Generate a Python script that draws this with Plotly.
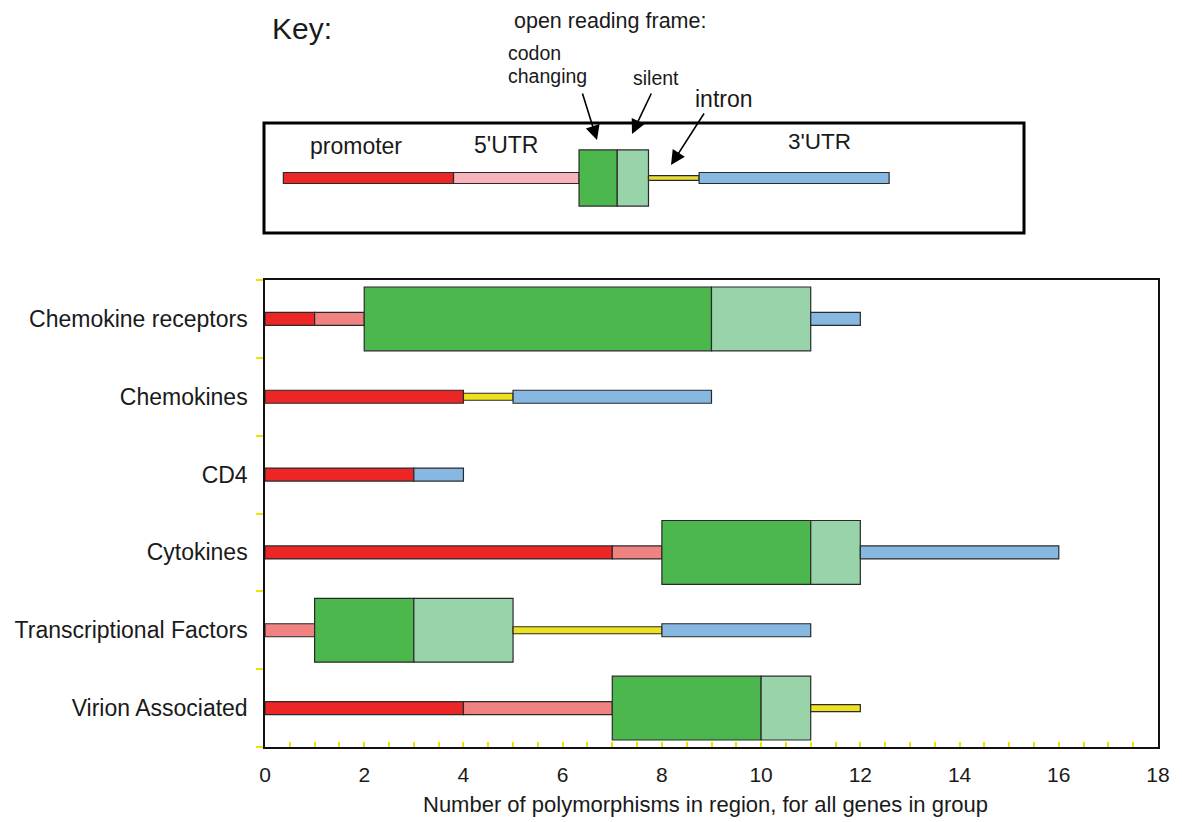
import plotly.graph_objects as go

# ---------------- data ----------------
categories = ["Chemokine receptors", "Chemokines", "CD4", "Cytokines",
              "Transcriptional Factors", "Virion Associated"]
regions = ["promoter", "5'UTR", "codon changing", "silent", "intron", "3'UTR"]
promoter = [1, 4, 3, 7, 0, 4]
utr5 = [1, 0, 0, 1, 1, 3]
codon = [7, 0, 0, 3, 2, 3]
silent = [2, 0, 0, 1, 2, 1]
intron = [0, 1, 0, 0, 3, 1]
utr3 = [1, 4, 1, 4, 3, 0]
x_ticks = [0, 2, 4, 6, 8, 10, 12, 14, 16, 18]

# key (legend diagram) segment lengths, same units as x axis
key_start = 0.37
key_lengths = [3.43, 2.53, 0.77, 0.63, 1.02, 3.83]

# ---------------- styles ----------------
colors = ["#EC2626", "#F08282", "#4CB74C", "#99D3AA", "#EEE21E", "#86B8E2"]
key_colors = ["#EC2626", "#F6B3BA", "#4CB74C", "#99D3AA", "#E8DC3A", "#86B8E2"]
thin, thick, narrow = 0.167, 0.82, 0.09
widths = [thin, thin, thick, thick, narrow, thin]
kthin, kthick, knarrow = 0.1, 0.51, 0.045
key_widths = [kthin, kthin, kthick, kthick, knarrow, kthin]
outline = "#2a2a2a"
FONT = "Liberation Sans, Arial, sans-serif"

# page body has an 8px margin: shift the figure so page pixels line up
OFF = 8
W, H = 1182 - OFF, 822 - OFF
PLOT_L, PLOT_R, PLOT_T, PLOT_B = 265, 1158, 10, 747   # page pixels
L = PLOT_L - OFF
R = W - (PLOT_R - OFF)
T = PLOT_T - OFF
B = H - (PLOT_B - OFF)
PW, PH = W - L - R, H - T - B


def px(x):
    return (x - OFF - L) / PW


def py(y):
    return (H - B - (y - OFF)) / PH


series = [promoter, utr5, codon, silent, intron, utr3]
fig = go.Figure()

# main chart bars
ypos = list(range(len(categories)))
running = [0] * len(categories)
for name, vals, col, w in zip(regions, series, colors, widths):
    xs = [v if v > 0 else None for v in vals]
    fig.add_trace(go.Bar(
        orientation="h", y=ypos, x=xs, base=list(running), width=w,
        marker=dict(color=col, line=dict(color=outline, width=1.2)),
        name=name, showlegend=False, hoverinfo="skip",
        xaxis="x", yaxis="y"))
    running = [r + v for r, v in zip(running, vals)]

# key bars
kb = key_start
for name, ln, col, w in zip(regions, key_lengths, key_colors, key_widths):
    fig.add_trace(go.Bar(
        orientation="h", y=[0.5], x=[ln], base=[kb], width=w,
        marker=dict(color=col, line=dict(color=outline, width=1.2)),
        name=name, showlegend=False, hoverinfo="skip",
        xaxis="x2", yaxis="y2"))
    kb += ln

fig.update_layout(
    width=W, height=H,
    margin=dict(l=L, r=R, t=T, b=B, autoexpand=False),
    paper_bgcolor="white", plot_bgcolor="white",
    barmode="overlay",
    font=dict(family=FONT, color="#1a1a1a"),
    xaxis=dict(
        domain=[0, 1], range=[0, 18], anchor="y",
        tickvals=x_ticks, ticktext=[str(t) for t in x_ticks],
        ticks="inside", ticklen=5, tickcolor="#E6E600", tickwidth=1.5,
        minor=dict(dtick=0.5, tick0=0, ticks="inside", ticklen=5,
                   tickcolor="#E6E600", tickwidth=1.5),
        tickfont=dict(size=21, family=FONT),
        ticklabelstandoff=8, ticklabeloverflow="allow", automargin=False,
        showgrid=False, zeroline=False,
        showline=True, linecolor="#111", linewidth=1.5, mirror=True),
    yaxis=dict(
        domain=[0, py(280)], range=[5.5, -0.5], anchor="x",
        tickvals=ypos, ticktext=categories,
        ticks="outside", ticklen=11, tickcolor="rgba(0,0,0,0)",
        minor=dict(dtick=1, tick0=0.5, ticks="outside", ticklen=7,
                   tickcolor="#E6E600", tickwidth=1.5),
        tickfont=dict(size=23, family=FONT), automargin=False,
        showgrid=False, zeroline=False,
        showline=True, linecolor="#111", linewidth=1.5, mirror=True),
    xaxis2=dict(domain=[0, 1], range=[0, 18], anchor="y2", visible=False),
    yaxis2=dict(domain=[py(233), py(123)], range=[0, 1], anchor="x2",
                visible=False),
)

# key frame
fig.add_shape(type="rect", xref="paper", yref="paper",
              x0=px(264), x1=px(1024), y0=py(233), y1=py(123),
              line=dict(color="black", width=3), fillcolor="rgba(0,0,0,0)")


def label(text, x, y, size, anchor="center"):
    fig.add_annotation(text=text, xref="paper", yref="paper", x=px(x), y=py(y),
                       xanchor=anchor, yanchor="middle", showarrow=False,
                       font=dict(size=size, family=FONT, color="#1a1a1a"))


label("Key:", 302, 28, 30)
label("open reading frame:", 610, 21, 21.5)
label("codon", 506, 53, 19.5, "left")
label("changing", 506, 76, 19.5, "left")
label("silent", 656, 78, 19.5)
label("intron", 724, 99, 23)
label("promoter", 356, 146, 23)
label("5'UTR", 506, 145, 23)
label("3'UTR", 819, 142, 22.5)
label("Number of polymorphisms in region, for all genes in group", 705, 804, 22)


def arrow(tail, head):
    fig.add_annotation(text="", xref="paper", yref="paper",
                       x=px(head[0]), y=py(head[1]),
                       axref="pixel", ayref="pixel",
                       ax=tail[0] - head[0], ay=tail[1] - head[1],
                       showarrow=True, arrowhead=2, arrowsize=1.8,
                       arrowwidth=1.6, arrowcolor="black")


arrow((582, 92), (597, 140))
arrow((652, 92), (632, 134))
arrow((705, 112), (671, 165))

fig.write_html(
    "out.html",
    config={"displayModeBar": False},
    post_script="document.documentElement.style.overflow='hidden';document.body.style.overflow='hidden';",
)
